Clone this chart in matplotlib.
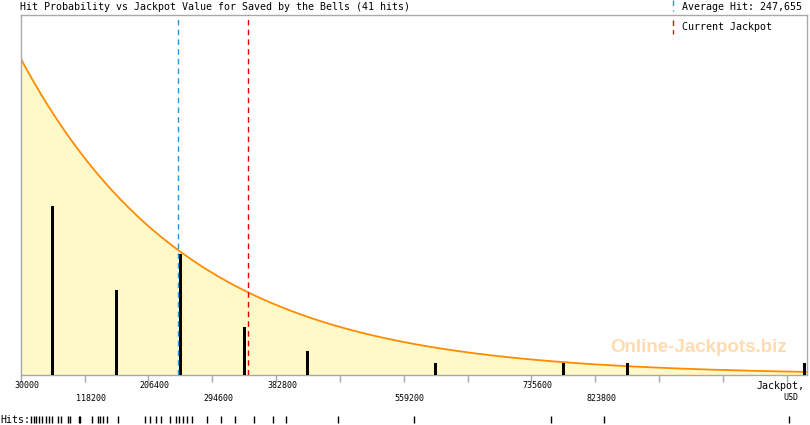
import numpy as np
import matplotlib.pyplot as plt
from matplotlib.transforms import blended_transform_factory, ScaledTranslation

# jackpot values (USD) of the 41 recorded hits
hits = [43800, 47700, 51100, 55300, 59400, 64500, 69100, 72800, 81500, 85300,
        95800, 98100, 110100, 111900,
        128900, 137200, 139600, 143700, 149700, 164900, 202200,
        209100, 216500, 223500, 236300, 244200, 248300, 253900, 259400, 266700, 287000,
        306400, 326500, 352400, 378200,
        396200, 468000,
        573000, 762800, 836400, 1091600]

average_hit = 247655
current_jackpot = 344500

# axis ticks
x_start = 30000
x_step = 88200
n_ticks = 13
labels_row1 = [30000, 206400, 382800, 735600]
labels_row2 = [118200, 294600, 559200, 823800]

# fitted exponential curve (in hit units)
curve_peak = 26.2
curve_scale = 234000

x_max = 1116500
y_max = 29.8

mono = 'DejaVu Sans Mono'
grey = '#a9a9a9'

fig = plt.figure(figsize=(8.1, 4.25), dpi=100)
ax = fig.add_axes([20.7 / 810, 50 / 425, 786.3 / 810, 360 / 425])

# curve + fill
xs = np.linspace(x_start, x_max, 600)
ys = curve_peak * np.exp(-(xs - x_start) / curve_scale)
ax.fill_between(xs, 0, ys, color='#fff8c8', lw=0)
ax.plot(xs, ys, color='#ff8c00', lw=1.3)

# histogram of hits
edges = x_start + x_step * np.arange(n_ticks + 1)
counts, _ = np.histogram(hits, bins=edges)
centers = edges[:-1] + x_step / 2
centers = np.minimum(centers, x_max - 3000)
mask = counts > 0
ax.bar(centers[mask], counts[mask], width=4200, color='black', lw=0, zorder=3)

# reference lines
ax.axvline(average_hit, color='#1e9be0', lw=1, ls=(0, (4, 3)), zorder=4)
ax.axvline(current_jackpot, color='#e00000', lw=1, ls=(0, (4, 3)), zorder=4)

ax.set_xlim(x_start, x_max)
ax.set_ylim(0, y_max)
ax.set_yticks([])
for s in ax.spines.values():
    s.set_color(grey)
    s.set_linewidth(1)

ticks = x_start + x_step * np.arange(n_ticks)
ax.set_xticks(ticks)
ax.set_xticklabels([''] * n_ticks)
ax.tick_params(axis='x', length=5, color=grey, width=1)

trans = blended_transform_factory(ax.transData, ax.transAxes)
shift = trans + ScaledTranslation(0.06, 0, fig.dpi_scale_trans)
for v in labels_row1:
    ax.text(v, -0.03, str(v), transform=shift, ha='center', va='center',
            fontsize=6, family=mono)
for v in labels_row2:
    ax.text(v, -0.064, str(v), transform=shift, ha='center', va='center',
            fontsize=6, family=mono)

fig.text(805 / 810, 1 - 386 / 425, 'Jackpot,', ha='right', va='center',
         fontsize=7.2, family=mono)
fig.text(798 / 810, 1 - 398 / 425, 'USD', ha='right', va='center',
         fontsize=6, family=mono)

# hits rug
fig.text(0, 1 - 420 / 425, 'Hits:', ha='left', va='center', fontsize=7.2, family=mono)
ax.vlines(hits, -0.115, -0.133, transform=trans, color='black', lw=1, clip_on=False)

# title
fig.text(20 / 810, 1 - 7 / 425, 'Hit Probability vs Jackpot Value for Saved by the Bells (41 hits)',
         ha='left', va='center', fontsize=7.2, family=mono)

# legend
fig.lines.append(plt.Line2D([673 / 810, 673 / 810], [1 - 0 / 425, 1 - 11 / 425],
                            transform=fig.transFigure, color='#1e9be0', lw=1, ls=(0, (4, 3))))
fig.lines.append(plt.Line2D([673 / 810, 673 / 810], [1 - 20 / 425, 1 - 34 / 425],
                            transform=fig.transFigure, color='#e00000', lw=1, ls=(0, (4, 3))))
fig.text(682 / 810, 1 - 7 / 425, 'Average Hit: 247,655', ha='left', va='center',
         fontsize=7.2, family=mono)
fig.text(682 / 810, 1 - 27 / 425, 'Current Jackpot', ha='left', va='center',
         fontsize=7.2, family=mono)

# watermark
fig.text(699 / 810, 1 - 348 / 425, 'Online-Jackpots.biz', ha='center', va='center',
         fontsize=13.5, fontweight='bold', family='Liberation Sans', color='#ffdcb0')

fig.savefig('out.png', dpi=100)
